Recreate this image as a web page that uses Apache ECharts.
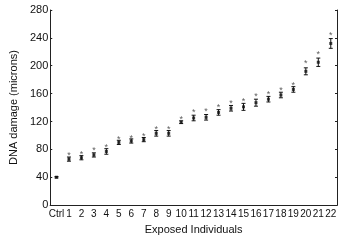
<!DOCTYPE html>
<html><head><meta charset="utf-8">
<script src="https://cdn.jsdelivr.net/npm/echarts@6/dist/echarts.min.js"></script>
<style>html,body{margin:0;padding:0;background:#fff}#c{width:347px;height:240px}</style>
</head><body><div id="c"></div>
<script>
var categories = ['Ctrl','1','2','3','4','5','6','7','8','9','10','11','12','13','14','15','16','17','18','19','20','21','22'];
var means = [40,66,68,72,77,90,92,94,103,103,119,125,126,133,139,141,147,152,158,166,192,205,232];
var errors = [1,3,3,3,4,3,3,3,4,4,2,4,4,4,4,5,5,4,4,4,5,6,7];
var starValues = [null,74,76,81,86,97,99,101,111,111,126,136,137,143,148,152,158,162,168,175,206,219,246];
var yTicks = [0,40,80,120,160,200,240,280];

var chart = echarts.init(document.getElementById('c'));
var font = 'Liberation Sans, Arial, sans-serif';
var errData = categories.map(function(c,i){return [i, means[i]-errors[i], means[i]+errors[i]];});
chart.setOption({
  animation:false,
  grid:{left:35,right:10,top:10,bottom:29},
  xAxis:[{type:'category',data:categories,boundaryGap:true,
    name:'Exposed Individuals',nameLocation:'middle',nameGap:18,
    nameTextStyle:{fontFamily:font,fontSize:11,color:'#111'},
    axisLine:{lineStyle:{color:'#222',width:1}},
    axisTick:{inside:true,alignWithLabel:true,length:2,lineStyle:{color:'#222'}},
    axisLabel:{fontFamily:font,fontSize:10,color:'#111',margin:4,interval:0}},
    {type:'category',data:categories,position:'top',boundaryGap:true,
    axisLine:{lineStyle:{color:'#222'}},axisTick:{inside:true,alignWithLabel:true,length:2,lineStyle:{color:'#222'}},axisLabel:{show:false}}],
  yAxis:[{type:'value',min:yTicks[0],max:yTicks[yTicks.length-1],interval:40,
    name:'DNA damage (microns)',nameLocation:'middle',nameGap:23,
    nameTextStyle:{fontFamily:font,fontSize:11,color:'#111'},
    axisLine:{show:true,lineStyle:{color:'#222'}},
    axisTick:{show:true,inside:true,length:2,lineStyle:{color:'#222'}},
    splitLine:{show:false},
    axisLabel:{fontFamily:font,fontSize:11,color:'#111',margin:2}},
    {type:'value',min:0,max:280,interval:40,position:'right',
    axisLine:{show:true,lineStyle:{color:'#222'}},axisTick:{show:true,inside:true,length:2,lineStyle:{color:'#222'}},
    splitLine:{show:false},axisLabel:{show:false}}],
  series:[
    {type:'custom',xAxisIndex:0,yAxisIndex:0,data:errData,
     renderItem:function(params,api){
       var x=api.value(0);
       var lo=api.coord([x,api.value(1)]);
       var hi=api.coord([x,api.value(2)]);
       var w=2;
       var st={stroke:'#111',lineWidth:1};
       return {type:'group',children:[
         {type:'line',shape:{x1:lo[0],y1:lo[1],x2:hi[0],y2:hi[1]},style:st},
         {type:'line',shape:{x1:lo[0]-w,y1:lo[1],x2:lo[0]+w,y2:lo[1]},style:st},
         {type:'line',shape:{x1:hi[0]-w,y1:hi[1],x2:hi[0]+w,y2:hi[1]},style:st}
       ]};
     }},
    {type:'scatter',data:means.map(function(v,i){return [i,v];}),symbol:'rect',symbolSize:3,
     itemStyle:{color:'#111'}},
    {type:'scatter',data:starValues.map(function(v,i){return [i,v];}),symbolSize:0,
     label:{show:true,formatter:'*',position:'inside',fontFamily:font,fontSize:9,color:'#333',offset:[0,2]}}
  ]
});
</script></body></html>
